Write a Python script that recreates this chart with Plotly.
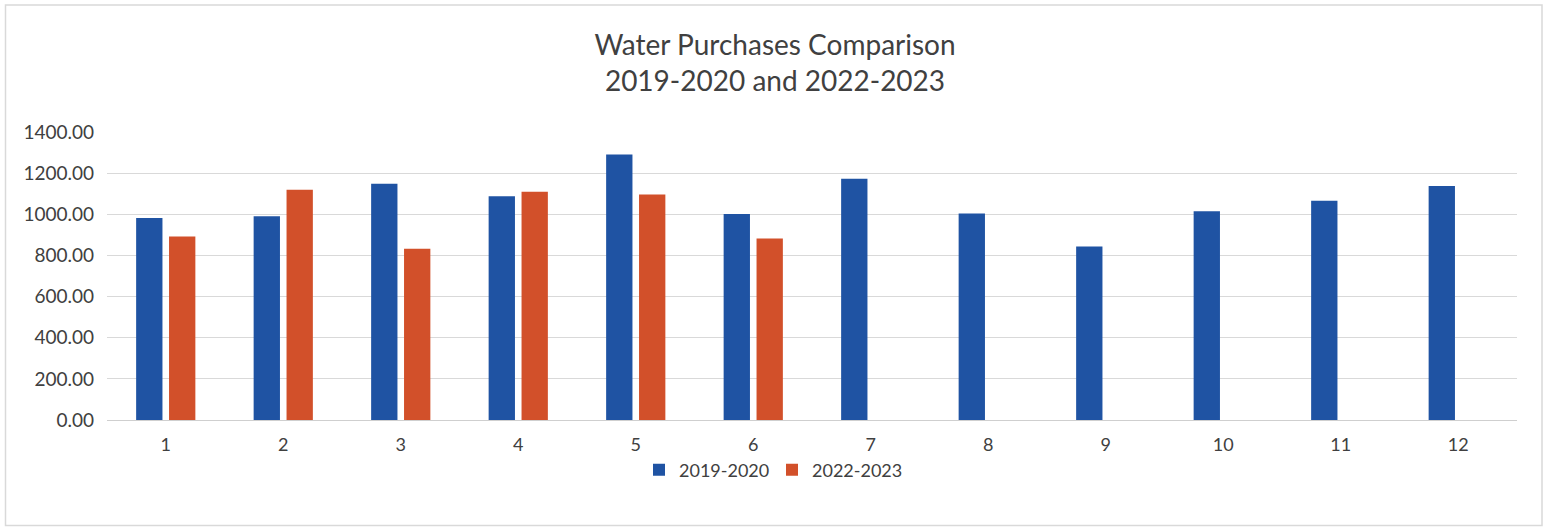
import plotly.graph_objects as go

months = [str(i) for i in range(1, 13)]
series_2019_2020 = [982, 990, 1148, 1088, 1291, 1001, 1173, 1004, 843, 1015, 1066, 1137]
series_2022_2023 = [892, 1119, 832, 1109, 1096, 882, None, None, None, None, None, None]
y_ticks = [0, 200, 400, 600, 800, 1000, 1200, 1400]

W, H = 1544, 529
L, R, T, B = 107, 27, 132, 109
pw, ph = W - L - R, H - T - B

font_family = "Lato, Open Sans, sans-serif"
text_color = "#404040"

fig = go.Figure()
fig.add_trace(go.Bar(x=months, y=series_2019_2020, name="2019-2020",
                     marker=dict(color="#1F53A3", line=dict(width=0))))
fig.add_trace(go.Bar(x=months, y=series_2022_2023, name="2022-2023",
                     marker=dict(color="#D2502A", line=dict(width=0))))

fig.update_layout(
    width=W, height=H,
    margin=dict(l=L, r=R, t=T, b=B, pad=0),
    paper_bgcolor="white", plot_bgcolor="white",
    barmode="group", bargap=0.44, bargroupgap=0.2,
    font=dict(family=font_family, color=text_color, size=19),
    title=dict(text="Water Purchases Comparison<br>2019-2020 and 2022-2023",
               x=(W / 2 + 3) / W, xanchor="center", xref="container",
               y=1 - 55 / H, yanchor="middle", yref="container",
               font=dict(family=font_family, size=28, color=text_color)),
    showlegend=True,
    legend=dict(orientation="h", x=(772 - L) / pw, xanchor="center",
                y=(420 - 470) / ph, yanchor="middle",
                bgcolor="rgba(0,0,0,0)",
                font=dict(size=18, color=text_color),
                itemwidth=30, tracegroupgap=0,
                entrywidth=88, entrywidthmode="pixels"),
    xaxis=dict(type="category", showgrid=False, zeroline=False, showline=False,
               ticks="", ticklabelstandoff=12,
               tickfont=dict(size=18, color=text_color)),
    yaxis=dict(range=[0, 1400], tickvals=y_ticks,
               ticktext=[f"{v:.2f}" for v in y_ticks],
               showgrid=True, gridcolor="#D9D9D9", gridwidth=1.3,
               zeroline=True, zerolinecolor="#CFCFCF", zerolinewidth=1.3,
               showline=False, ticks="", ticklabelstandoff=12,
               tickfont=dict(size=19, color=text_color)),
)

fig.add_shape(type="rect", xref="paper", yref="paper",
              x0=(5.5 - L) / pw, x1=(1542 - L) / pw,
              y0=(420 - 525.5) / ph, y1=(420 - 5) / ph,
              line=dict(color="#D9D9D9", width=1.5), fillcolor="rgba(0,0,0,0)",
              layer="below")

fig.write_html("out.html")
